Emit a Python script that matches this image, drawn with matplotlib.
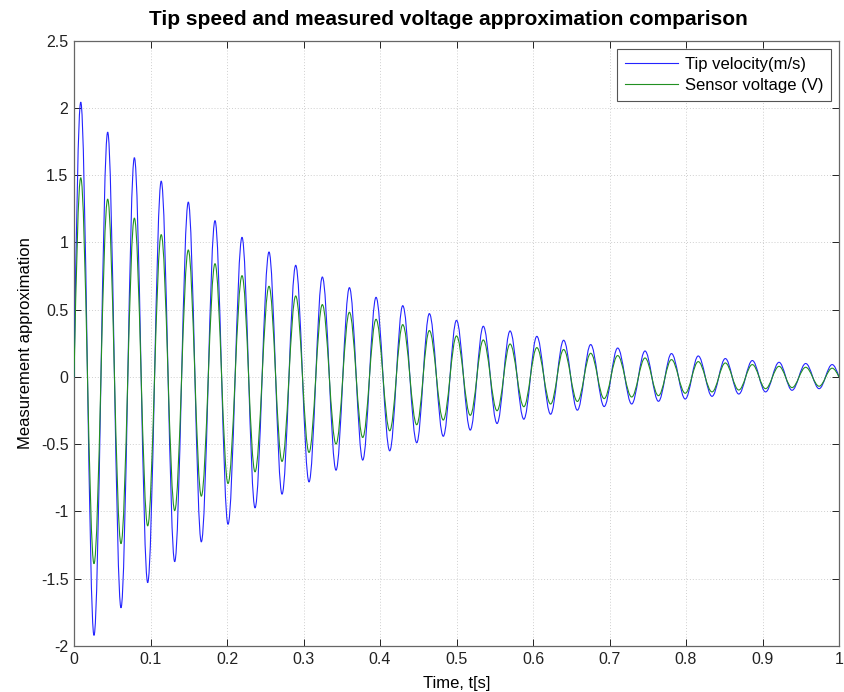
import matplotlib
matplotlib.use("Agg")
import matplotlib.pyplot as plt
from matplotlib.path import Path
from matplotlib.patches import PathPatch
from matplotlib.lines import Line2D
import numpy as np

plt.rcParams['font.family'] = ['Liberation Sans', 'DejaVu Sans']

# ---- data (extrema of the damped oscillations) ----
start_t, start_val = 0.0, 0.0
end_t, end_val = 1.0, 0.0

peak_t = [0.0088, 0.0440, 0.0789, 0.1140, 0.1494, 0.1843, 0.2196, 0.2549, 0.2898, 0.3246,
          0.3600, 0.3948, 0.4297, 0.4645, 0.5000, 0.5350, 0.5700, 0.6050, 0.6400, 0.6754,
          0.7107, 0.7464, 0.7810, 0.8160, 0.8514, 0.8867, 0.9216, 0.9565, 0.9910]
peak_velocity = [2.043, 1.820, 1.630, 1.456, 1.300, 1.162, 1.038, 0.929, 0.830, 0.743,
                 0.664, 0.592, 0.530, 0.471, 0.421, 0.377, 0.342, 0.302, 0.273, 0.241,
                 0.215, 0.193, 0.174, 0.156, 0.137, 0.122, 0.109, 0.100, 0.092]
peak_voltage = [1.481, 1.322, 1.181, 1.058, 0.944, 0.842, 0.753, 0.674, 0.602, 0.538,
                0.481, 0.429, 0.389, 0.345, 0.305, 0.275, 0.245, 0.218, 0.204, 0.176,
                0.159, 0.141, 0.129, 0.114, 0.104, 0.092, 0.079, 0.072, 0.065]

trough_t = [0.0261, 0.0614, 0.0963, 0.1316, 0.1664, 0.2013, 0.2366, 0.2719, 0.3072, 0.3425,
            0.3774, 0.4127, 0.4480, 0.4827, 0.5180, 0.5530, 0.5880, 0.6230, 0.6580, 0.6930,
            0.7290, 0.7640, 0.7990, 0.8340, 0.8690, 0.9040, 0.9386, 0.9740]
trough_velocity = [-1.921, -1.716, -1.529, -1.373, -1.226, -1.095, -0.973, -0.871, -0.780, -0.693,
                   -0.618, -0.549, -0.489, -0.441, -0.395, -0.346, -0.314, -0.277, -0.247, -0.220,
                   -0.201, -0.181, -0.164, -0.144, -0.127, -0.111, -0.099, -0.087]
trough_voltage = [-1.388, -1.239, -1.107, -0.993, -0.886, -0.792, -0.705, -0.628, -0.561, -0.499,
                  -0.450, -0.400, -0.355, -0.320, -0.285, -0.251, -0.221, -0.201, -0.182, -0.161,
                  -0.149, -0.139, -0.121, -0.111, -0.097, -0.087, -0.079, -0.069]

x_ticks = [0, 0.1, 0.2, 0.3, 0.4, 0.5, 0.6, 0.7, 0.8, 0.9, 1]
x_labels = ['0', '0.1', '0.2', '0.3', '0.4', '0.5', '0.6', '0.7', '0.8', '0.9', '1']
y_ticks = [-2, -1.5, -1, -0.5, 0, 0.5, 1, 1.5, 2, 2.5]
y_labels = ['-2', '-1.5', '-1', '-0.5', '0', '0.5', '1', '1.5', '2', '2.5']

series_names = ['Tip velocity(m/s)', 'Sensor voltage (V)']
series_colors = ['#2424ff', '#229022']


def sequence(peaks_t, peaks_v, troughs_t, troughs_v):
    pts = sorted(list(zip(peaks_t, peaks_v)) + list(zip(troughs_t, troughs_v)))
    pts = [(start_t, start_val)] + pts + [(end_t, end_val)]
    return [p[0] for p in pts], [p[1] for p in pts]


def smooth_path(ts, ys):
    """Cubic Bezier segments between successive extrema (horizontal tangents
    at extrema, sine-like slope at the zero-valued ends)."""
    verts = [(ts[0], ys[0])]
    codes = [Path.MOVETO]
    n = len(ts)
    k = 0.36
    for i in range(n - 1):
        t0, t1, y0, y1 = ts[i], ts[i + 1], ys[i], ys[i + 1]
        dt = t1 - t0
        if i == 0:
            c1 = (t0 + dt / 3, y0 + (y1 - y0) * np.pi / 6)
        else:
            c1 = (t0 + k * dt, y0)
        if i == n - 2:
            c2 = (t1 - dt / 3, y1 - (y1 - y0) * np.pi / 6)
        else:
            c2 = (t1 - k * dt, y1)
        verts += [c1, c2, (t1, y1)]
        codes += [Path.CURVE4] * 3
    return Path(verts, codes)


fig = plt.figure(figsize=(8.45, 6.92), dpi=100)
ax = fig.add_axes([0.0876, 0.0665, 0.9053, 0.8747])

series = [
    sequence(peak_t, peak_velocity, trough_t, trough_velocity),
    sequence(peak_t, peak_voltage, trough_t, trough_voltage),
]
handles = []
for (ts, ys), col, name in zip(series, series_colors, series_names):
    patch = PathPatch(smooth_path(ts, ys), facecolor='none', edgecolor=col,
                      linewidth=0.8, zorder=3)
    ax.add_patch(patch)
    handles.append(Line2D([], [], color=col, linewidth=0.8, label=name))

ax.set_xlim(0, 1)
ax.set_ylim(-2, 2.5)
ax.set_xticks(x_ticks)
ax.set_xticklabels(x_labels)
ax.set_yticks(y_ticks)
ax.set_yticklabels(y_labels)
ax.tick_params(direction='in', length=5, width=0.7, top=True, right=True,
               labelsize=11.5, colors='#222222', pad=4)
for sp in ax.spines.values():
    sp.set_color('#666666')
    sp.set_linewidth(0.9)
ax.grid(True, linestyle=(0, (1, 2)), color='#cfcfcf', linewidth=0.7)
ax.set_axisbelow(True)

ax.set_title('Tip speed and measured voltage approximation comparison',
             fontsize=15, fontweight='bold', pad=11, x=0.489)
ax.set_xlabel('Time, t[s]', fontsize=12, labelpad=7)
ax.set_ylabel('Measurement approximation', fontsize=12, labelpad=6)

leg = ax.legend(handles=handles, loc='upper right', fontsize=12,
                fancybox=False, edgecolor='#555555', framealpha=1,
                borderaxespad=0.5, handlelength=3.2, handletextpad=0.4,
                borderpad=0.45, labelspacing=0.4)
leg.get_frame().set_linewidth(0.8)

fig.savefig('out.png', dpi=100)
